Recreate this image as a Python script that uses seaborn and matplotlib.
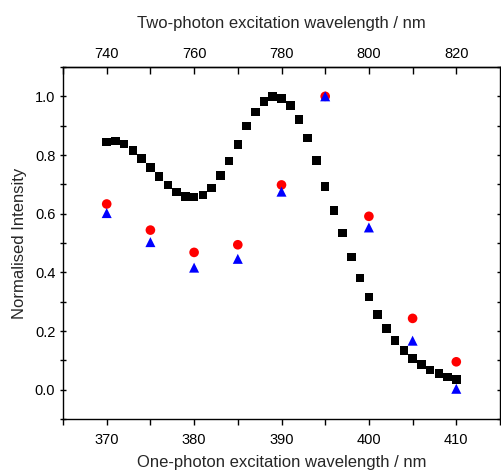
import matplotlib
matplotlib.use("Agg")
import matplotlib.pyplot as plt
import seaborn as sns
import pandas as pd
from matplotlib.ticker import MultipleLocator, FixedLocator

sns.set_style("ticks")
plt.rcParams['font.family'] = ['Liberation Sans', 'DejaVu Sans']

# One-photon excitation spectrum (black squares)
op_wavelength = list(range(370, 411))
op_intensity = [0.845, 0.848, 0.838, 0.816, 0.789, 0.757, 0.726, 0.697, 0.674, 0.658,
                0.657, 0.664, 0.688, 0.731, 0.780, 0.836, 0.899, 0.946, 0.982, 0.999,
                0.993, 0.969, 0.921, 0.858, 0.782, 0.693, 0.611, 0.534, 0.453, 0.380,
                0.316, 0.257, 0.208, 0.168, 0.134, 0.107, 0.086, 0.067, 0.055, 0.043,
                0.035]

# Two-photon data (plotted at one-photon equivalent wavelength)
tp_wavelength = [370, 375, 380, 385, 390, 395, 400, 405, 410]
tp_red = [0.633, 0.544, 0.468, 0.494, 0.698, 1.0, 0.591, 0.243, 0.095]
tp_blue = [0.602, 0.503, 0.416, 0.446, 0.675, 1.0, 0.553, 0.167, 0.003]

top_ticks = [740, 760, 780, 800, 820]
top_minor = [730, 750, 770, 790, 810]

df_op = pd.DataFrame({"wl": op_wavelength, "I": op_intensity})
df_red = pd.DataFrame({"wl": tp_wavelength, "I": tp_red})
df_blue = pd.DataFrame({"wl": tp_wavelength, "I": tp_blue})

fig = plt.figure(figsize=(5.01, 4.73), dpi=100)
ax = fig.add_axes([63/501, 1-419/473, (500-63)/501, (419-67)/473])

sns.scatterplot(data=df_op, x="wl", y="I", ax=ax, marker="s", s=38, color="black",
                edgecolor="none", linewidth=0)
sns.scatterplot(data=df_red, x="wl", y="I", ax=ax, marker="o", s=48, color="#ff0000",
                edgecolor="none", linewidth=0)
sns.scatterplot(data=df_blue, x="wl", y="I", ax=ax, marker="^", s=52, color="#0000ff",
                edgecolor="none", linewidth=0)

ax.set_xlim(365, 415)
ax.set_ylim(-0.1, 1.1)
ax.xaxis.set_major_locator(MultipleLocator(10))
ax.xaxis.set_minor_locator(MultipleLocator(5))
ax.yaxis.set_minor_locator(MultipleLocator(0.1))
ax.set_yticks([0.0, 0.2, 0.4, 0.6, 0.8, 1.0])
ax.set_yticklabels(["0.0", "0.2", "0.4", "0.6", "0.8", "1.0"])

for sp in ax.spines.values():
    sp.set_linewidth(1.0)
    sp.set_color("black")
    sp.set_visible(True)

ax.tick_params(axis="x", which="both", direction="out", length=4, width=1,
               labelsize=10.5, colors="black", pad=6, top=False)
ax.tick_params(axis="y", which="both", direction="inout", length=5, width=1,
               labelsize=10.5, colors="black", pad=3, right=True)

ax.set_xlabel("One-photon excitation wavelength / nm", fontsize=12, labelpad=6)
ax.set_ylabel("Normalised Intensity", fontsize=12, labelpad=6)

sec = ax.secondary_xaxis("top", functions=(lambda x: 2 * x, lambda x: x / 2))
sec.xaxis.set_major_locator(FixedLocator(top_ticks))
sec.xaxis.set_minor_locator(FixedLocator(top_minor))
sec.tick_params(axis="x", which="both", direction="in", length=5, width=1,
                labelsize=10.5, colors="black", pad=4)
sec.set_xlabel("Two-photon excitation wavelength / nm", fontsize=12, labelpad=14)
sec.spines["top"].set_linewidth(1.0)

fig.savefig("out.png", dpi=100)
